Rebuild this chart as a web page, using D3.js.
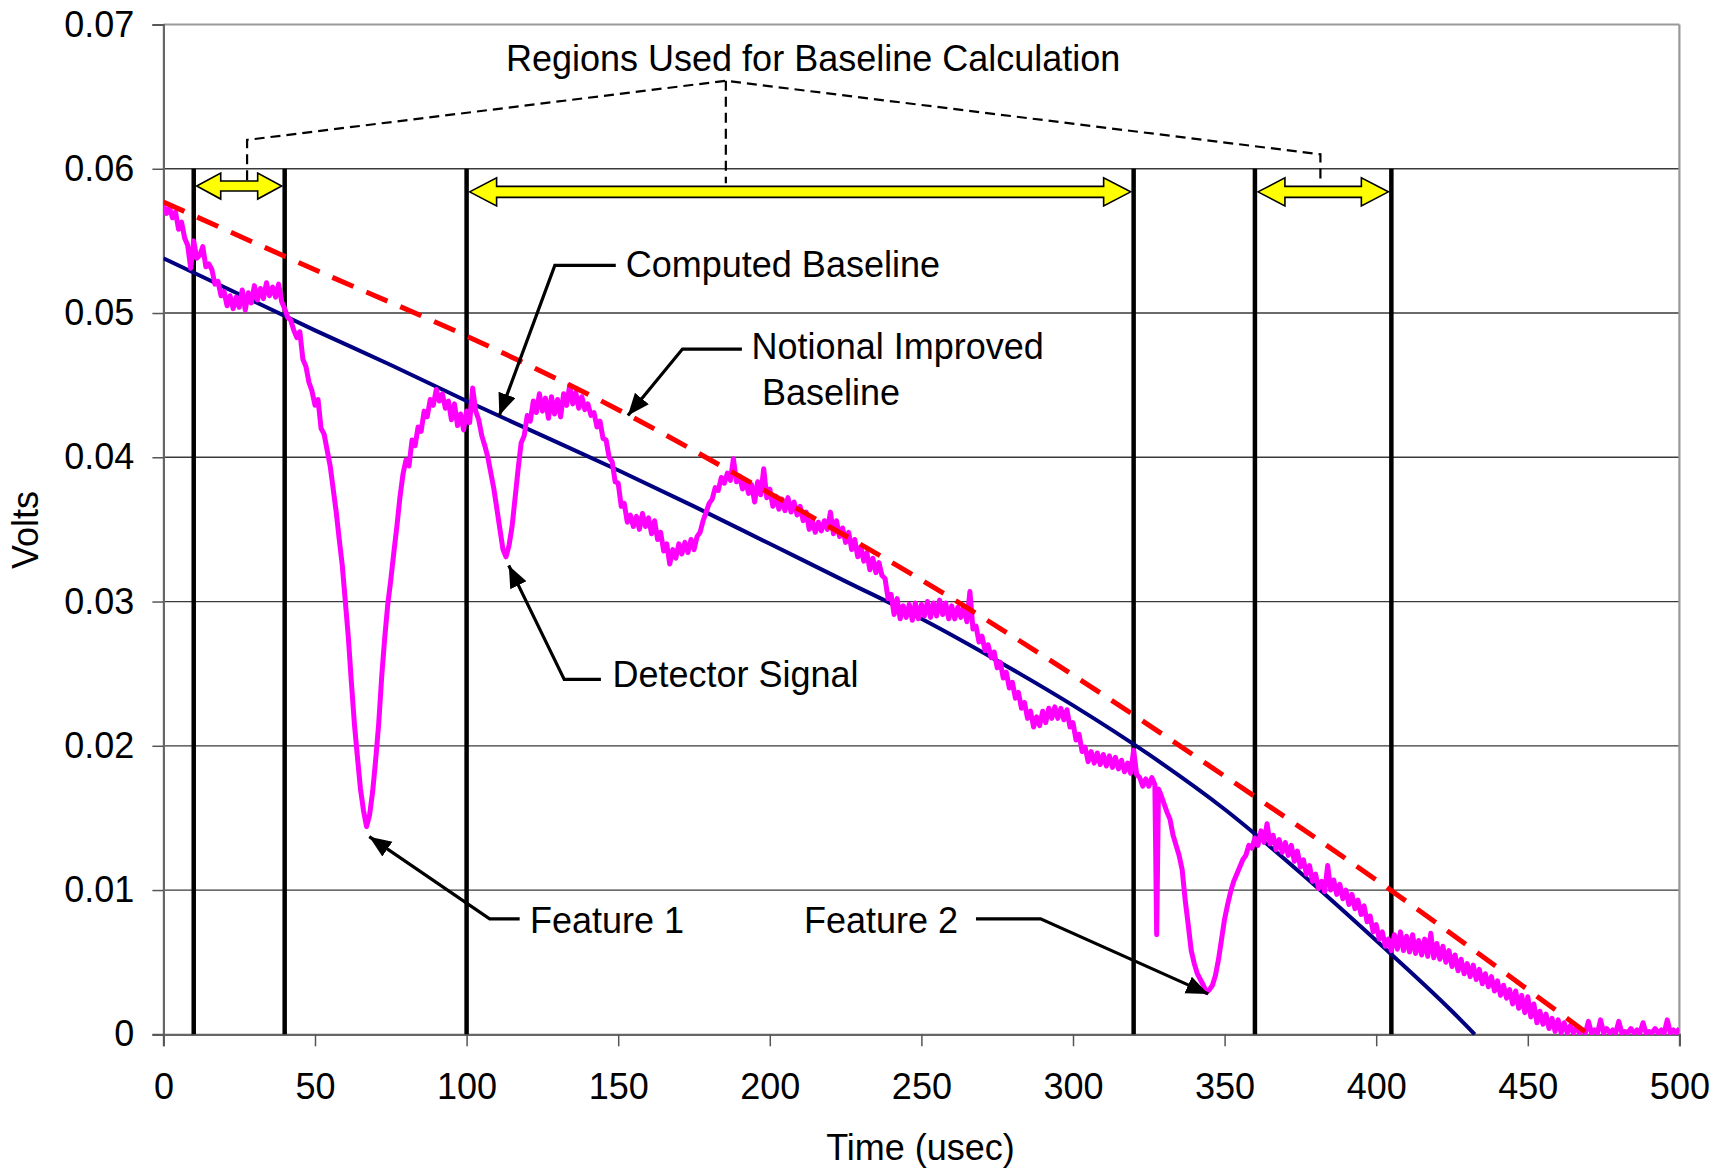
<!DOCTYPE html>
<html>
<head>
<meta charset="utf-8">
<script src="https://cdn.jsdelivr.net/npm/d3@7"></script>
<style>
  body { margin: 0; background: #fff; }
  svg { display: block; font-family: Arial, "Liberation Sans", sans-serif; }
</style>
</head>
<body>
<svg id="chart" width="1731" height="1168"></svg>
<script>
// ---- data ----
var xTicks = [0, 50, 100, 150, 200, 250, 300, 350, 400, 450, 500];
var yTicks = [0, 0.01, 0.02, 0.03, 0.04, 0.05, 0.06, 0.07];

// time (usec) of the black region markers
var regionLines = [10, 40, 100, 320, 360, 405];
var regionSpans = [[10, 40], [100, 320], [360, 405]];
var spanLevels = [0.0588, 0.0584, 0.0584];

// computed baseline (solid navy)
var computedBaseline = [[0, 0.0538], [25, 0.0513], [50, 0.0488], [75, 0.0464], [100, 0.0439],
  [125, 0.0415], [150, 0.0391], [175, 0.0366], [200, 0.0340], [225, 0.0314], [250, 0.0288],
  [275, 0.0259], [300, 0.0228], [325, 0.0194], [350, 0.0156], [375, 0.0112], [400, 0.0065],
  [425, 0.0016], [432.5, 0]];

// notional improved baseline (red dashed)
var improvedBaseline = [[0, 0.0577], [50, 0.0530], [100, 0.0484], [150, 0.0433], [200, 0.0375],
  [250, 0.0315], [300, 0.0249], [350, 0.0179], [400, 0.0107], [450, 0.0031], [470, 0]];

// detector signal (magenta)
var detectorSignal = [[0,0.0575],[1,0.0569],[2,0.0573],[3,0.0566],[4,0.0570],[5,0.0558],[6,0.0563],[7,0.0552],[8,0.0547],[9,0.0531],[10,0.0550],[11,0.0538],[12,0.0540],[13,0.0546],[14,0.0532],[15,0.0534],[16,0.0530],[17,0.0520],[18,0.0522],[19,0.0512],[20,0.0515],[21,0.0505],[22,0.0512],[23,0.0503],[24,0.0511],[25,0.0504],[26,0.0516],[27,0.0502],[28,0.0514],[29,0.0507],[30,0.0519],[31,0.0509],[32,0.0517],[33,0.0510],[34,0.0521],[35,0.0512],[36,0.0518],[37,0.0511],[38,0.0520],[39,0.0508],[40,0.0503],[41,0.0497],[42,0.0495],[43,0.0488],[44,0.0483],[45,0.0487],[46,0.0468],[47,0.0463],[48,0.0452],[49,0.0446],[50,0.0436],[51,0.0440],[52,0.0420],[53,0.0416],[54,0.0405],[55,0.0394],[56,0.0378],[57,0.0362],[58,0.0343],[59,0.0325],[60,0.0300],[61,0.0275],[62,0.0244],[63,0.0215],[64,0.0192],[65,0.0170],[66,0.0155],[67,0.0144],[68,0.0152],[69,0.0168],[70,0.0190],[71,0.0215],[72,0.0248],[73,0.0275],[74,0.0298],[75,0.0315],[76,0.0334],[77,0.0352],[78,0.0372],[79,0.0388],[80,0.0398],[81,0.0394],[82,0.0412],[83,0.0408],[84,0.0421],[85,0.0418],[86,0.0432],[87,0.0428],[88,0.0440],[89,0.0436],[90,0.0447],[91,0.0439],[92,0.0444],[93,0.0434],[94,0.0439],[95,0.0426],[96,0.0437],[97,0.0422],[98,0.0430],[99,0.0419],[100,0.0432],[101,0.0424],[102,0.0448],[103,0.0432],[104,0.0426],[105,0.0415],[106,0.0408],[107,0.0400],[108,0.0389],[109,0.0378],[110,0.0364],[111,0.0350],[112,0.0336],[113,0.0331],[114,0.0339],[115,0.0352],[116,0.0372],[117,0.0392],[118,0.0410],[119,0.0415],[120,0.0429],[121,0.0425],[122,0.0439],[123,0.0431],[124,0.0444],[125,0.0432],[126,0.0441],[127,0.0427],[128,0.0442],[129,0.0430],[130,0.0440],[131,0.0428],[132,0.0444],[133,0.0436],[134,0.0450],[135,0.0437],[136,0.0445],[137,0.0434],[138,0.0442],[139,0.0433],[140,0.0437],[141,0.0429],[142,0.0431],[143,0.0421],[144,0.0425],[145,0.0413],[146,0.0412],[147,0.0400],[148,0.0397],[149,0.0383],[150,0.0382],[151,0.0366],[152,0.0368],[153,0.0355],[154,0.0360],[155,0.0352],[156,0.0359],[157,0.0350],[158,0.0361],[159,0.0352],[160,0.0358],[161,0.0347],[162,0.0356],[163,0.0343],[164,0.0348],[165,0.0335],[166,0.0340],[167,0.0326],[168,0.0336],[169,0.0330],[170,0.0340],[171,0.0333],[172,0.0341],[173,0.0334],[174,0.0343],[175,0.0336],[176,0.0345],[177,0.0348],[178,0.0356],[179,0.0362],[180,0.0368],[181,0.0371],[182,0.0379],[183,0.0377],[184,0.0386],[185,0.0382],[186,0.0389],[187,0.0384],[188,0.0399],[189,0.0383],[190,0.0387],[191,0.0378],[192,0.0384],[193,0.0375],[194,0.0381],[195,0.0369],[196,0.0383],[197,0.0374],[198,0.0392],[199,0.0372],[200,0.0378],[201,0.0366],[202,0.0373],[203,0.0364],[204,0.0371],[205,0.0363],[206,0.0372],[207,0.0362],[208,0.0369],[209,0.0360],[210,0.0366],[211,0.0356],[212,0.0362],[213,0.0350],[214,0.0356],[215,0.0348],[216,0.0355],[217,0.0349],[218,0.0356],[219,0.0350],[220,0.0362],[221,0.0347],[222,0.0356],[223,0.0345],[224,0.0351],[225,0.0341],[226,0.0348],[227,0.0336],[228,0.0343],[229,0.0331],[230,0.0338],[231,0.0328],[232,0.0334],[233,0.0322],[234,0.0330],[235,0.0320],[236,0.0327],[237,0.0318],[238,0.0316],[239,0.0302],[240,0.0305],[241,0.0291],[242,0.0302],[243,0.0288],[244,0.0297],[245,0.0289],[246,0.0298],[247,0.0287],[248,0.0299],[249,0.0288],[250,0.0298],[251,0.0290],[252,0.0300],[253,0.0289],[254,0.0299],[255,0.0290],[256,0.0301],[257,0.0291],[258,0.0299],[259,0.0288],[260,0.0297],[261,0.0288],[262,0.0296],[263,0.0289],[264,0.0297],[265,0.0286],[266,0.0307],[267,0.0281],[268,0.0283],[269,0.0272],[270,0.0276],[271,0.0266],[272,0.0270],[273,0.0261],[274,0.0265],[275,0.0254],[276,0.0258],[277,0.0247],[278,0.0251],[279,0.0240],[280,0.0244],[281,0.0233],[282,0.0237],[283,0.0226],[284,0.0230],[285,0.0219],[286,0.0224],[287,0.0213],[288,0.0220],[289,0.0214],[290,0.0224],[291,0.0216],[292,0.0226],[293,0.0219],[294,0.0227],[295,0.0219],[296,0.0226],[297,0.0218],[298,0.0225],[299,0.0213],[300,0.0216],[301,0.0204],[302,0.0208],[303,0.0196],[304,0.0199],[305,0.0189],[306,0.0196],[307,0.0188],[308,0.0195],[309,0.0187],[310,0.0194],[311,0.0186],[312,0.0193],[313,0.0185],[314,0.0192],[315,0.0184],[316,0.0190],[317,0.0182],[318,0.0188],[319,0.0181],[320,0.0197],[321,0.0180],[322,0.0178],[323,0.0172],[324,0.0177],[325,0.0172],[326,0.0178],[327,0.0173],[327.6,0.0069],[328.2,0.0170],[329,0.0166],[330,0.0160],[331,0.0154],[332,0.0149],[333,0.0138],[334,0.0131],[335,0.0124],[336,0.0114],[337,0.0093],[338,0.0076],[339,0.0058],[340,0.0049],[341,0.0042],[342,0.0038],[343,0.0034],[344,0.0029],[345,0.0031],[346,0.0034],[347,0.0041],[348,0.0052],[349,0.0066],[350,0.0080],[351,0.0090],[352,0.0099],[353,0.0106],[354,0.0111],[355,0.0116],[356,0.0121],[357,0.0124],[358,0.0131],[359,0.0129],[360,0.0136],[361,0.0131],[362,0.0141],[363,0.0133],[364,0.0146],[365,0.0132],[366,0.0138],[367,0.0128],[368,0.0135],[369,0.0126],[370,0.0133],[371,0.0124],[372,0.0131],[373,0.0120],[374,0.0127],[375,0.0116],[376,0.0121],[377,0.0111],[378,0.0117],[379,0.0106],[380,0.0111],[381,0.0101],[382,0.0106],[383,0.0099],[384,0.0117],[385,0.0100],[386,0.0107],[387,0.0097],[388,0.0104],[389,0.0094],[390,0.0100],[391,0.0090],[392,0.0097],[393,0.0087],[394,0.0093],[395,0.0083],[396,0.0089],[397,0.0078],[398,0.0082],[399,0.0071],[400,0.0076],[401,0.0066],[402,0.0071],[403,0.0061],[404,0.0066],[405,0.0058],[406,0.0069],[407,0.0059],[408,0.0071],[409,0.0058],[410,0.0068],[411,0.0057],[412,0.0069],[413,0.0056],[414,0.0065],[415,0.0055],[416,0.0066],[417,0.0054],[418,0.0070],[419,0.0053],[420,0.0063],[421,0.0052],[422,0.0061],[423,0.0050],[424,0.0058],[425,0.0047],[426,0.0055],[427,0.0044],[428,0.0052],[429,0.0042],[430,0.0049],[431,0.0040],[432,0.0048],[433,0.0038],[434,0.0045],[435,0.0035],[436,0.0042],[437,0.0033],[438,0.0040],[439,0.0030],[440,0.0037],[441,0.0027],[442,0.0034],[443,0.0025],[444,0.0031],[445,0.0021],[446,0.0030],[447,0.0018],[448,0.0027],[449,0.0015],[450,0.0026],[451,0.0012],[452,0.0021],[453,0.0008],[454,0.0016],[455,0.0007],[456,0.0014],[457,0.0004],[458,0.0011],[459,0.0002],[460,0.0010],[461,0.0001],[462,0.0008],[463,0.0001],[464,0.0006],[465,0.0001],[466,0.0005],[467,0.0001],[468,0.0003],[469,0.0001],[470,0.0009],[471,0.0001],[472,0.0003],[473,0.0001],[474,0.0010],[475,0.0001],[476,0.0004],[477,0.0001],[478,0.0003],[479,0.0001],[480,0.0009],[481,0.0001],[482,0.0002],[483,0.0001],[484,0.0004],[485,0.0001],[486,0.0003],[487,0.0001],[488,0.0008],[489,0.0001],[490,0.0002],[491,0.0001],[492,0.0004],[493,0.0001],[494,0.0003],[495,0.0001],[496,0.0010],[497,0.0001],[498,0.0003],[499,0.0001],[500,0.0004]];

// dashed bracket joining the three regions (time, volts)
var bracketLine = [[27.6, 0.0592], [27.6, 0.0620], [185.5, 0.0661], [381.6, 0.0610], [381.6, 0.0590]];
var bracketStem = [[185.5, 0.0661], [185.5, 0.0590]];

// callout leaders: text end -> elbow -> arrow tip
var leaders = {
  computed: [[149.2, 0.0533], [129.1, 0.0533], [110.8, 0.0429]],
  improved: [[190.8, 0.0475], [171.2, 0.0475], [153.2, 0.0429]],
  detector: [[144.3, 0.0246], [132.2, 0.0246], [113.9, 0.0325]],
  feature1: [[117.5, 0.0080], [107.6, 0.0080], [67.9, 0.0137]],
  feature2: [[268.0, 0.0080], [289.3, 0.0080], [344.6, 0.0028]]
};
var labels = [
  {text: "Regions Used for Baseline Calculation", t: 214.3, v: 0.0668, anchor: "middle"},
  {text: "Computed Baseline", t: 152.5, v: 0.0525, anchor: "start"},
  {text: "Notional Improved", t: 194.0, v: 0.0468, anchor: "start"},
  {text: "Baseline", t: 197.4, v: 0.0436, anchor: "start"},
  {text: "Detector Signal", t: 148.1, v: 0.0241, anchor: "start"},
  {text: "Feature 1", t: 120.9, v: 0.0070, anchor: "start"},
  {text: "Feature 2", t: 262.1, v: 0.0070, anchor: "end"}
];

var drawChart = function () {
  var svg = d3.select('#chart');
  var left = 163.4, right = 1679.4, top = 24.5, bottom = 1034.3;
  var FONT = 36;

  var xScale = d3.scaleLinear().domain([0, 500]).range([left, right]);
  var yScale = d3.scaleLinear().domain([0, 0.07]).range([bottom, top]);

  // gridlines
  svg.append('g')
    .selectAll('line')
    .data(yTicks.filter(function (d) { return d > 0 && d < 0.07; }))
    .enter().append('line')
    .attr('x1', left).attr('x2', right)
    .attr('y1', function (d) { return yScale(d); })
    .attr('y2', function (d) { return yScale(d); })
    .attr('stroke', '#3a3a3a').attr('stroke-width', 1.3);

  // frame top / right
  svg.append('line').attr('x1', left).attr('x2', right).attr('y1', top).attr('y2', top)
    .attr('stroke', '#999').attr('stroke-width', 2.2);
  svg.append('line').attr('x1', right).attr('x2', right).attr('y1', top).attr('y2', bottom)
    .attr('stroke', '#999').attr('stroke-width', 2.2);

  // axes
  var yAxis = d3.axisLeft(yScale).tickValues(yTicks).tickSize(11).tickPadding(18)
    .tickFormat(function (d) { return d === 0 ? '0' : d3.format('.2f')(d); });
  var gy = svg.append('g').attr('transform', 'translate(' + left + ',0)').call(yAxis);
  var xAxis = d3.axisBottom(xScale).tickValues(xTicks).tickSize(12).tickPadding(27)
    .tickFormat(d3.format('d'));
  var gx = svg.append('g').attr('transform', 'translate(0,' + bottom + ')').call(xAxis);
  [gx, gy].forEach(function (g) {
    g.attr('font-size', FONT).attr('font-family', 'Arial, "Liberation Sans", sans-serif');
    g.selectAll('text').attr('fill', '#000');
    g.selectAll('.tick line').attr('stroke', '#555').attr('stroke-width', 1.5);
    g.select('.domain').attr('stroke', '#666').attr('stroke-width', 2.2);
  });

  // axis titles
  svg.append('text').attr('transform', 'translate(38,530) rotate(-90)')
    .attr('text-anchor', 'middle').attr('font-size', FONT).text('Volts');
  svg.append('text').attr('x', 920.5).attr('y', 1160)
    .attr('text-anchor', 'middle').attr('font-size', FONT).text('Time (usec)');

  // region marker lines
  svg.append('g').selectAll('line').data(regionLines).enter().append('line')
    .attr('x1', function (d) { return xScale(d); })
    .attr('x2', function (d) { return xScale(d); })
    .attr('y1', yScale(0.06)).attr('y2', bottom)
    .attr('stroke', '#000').attr('stroke-width', 4.5);

  svg.append('clipPath').attr('id', 'plotClip').append('rect')
    .attr('x', left).attr('y', top).attr('width', right - left).attr('height', bottom - top + 1);

  var line = d3.line()
    .x(function (d) { return xScale(d[0]); })
    .y(function (d) { return yScale(d[1]); });
  var smooth = d3.line()
    .curve(d3.curveMonotoneX)
    .x(function (d) { return xScale(d[0]); })
    .y(function (d) { return yScale(d[1]); });

  var series = svg.append('g').attr('clip-path', 'url(#plotClip)');
  series.append('path').datum(computedBaseline).attr('d', smooth)
    .attr('fill', 'none').attr('stroke', '#000080').attr('stroke-width', 4);
  series.append('path').datum(detectorSignal).attr('d', line)
    .attr('fill', 'none').attr('stroke', '#ff00ff').attr('stroke-width', 5)
    .attr('stroke-linejoin', 'round');
  series.append('path').datum(improvedBaseline).attr('d', smooth)
    .attr('fill', 'none').attr('stroke', '#ff0000').attr('stroke-width', 5)
    .attr('stroke-dasharray', '23,14');

  // dashed bracket
  [bracketLine, bracketStem].forEach(function (pts) {
    svg.append('path').datum(pts).attr('d', line)
      .attr('fill', 'none').attr('stroke', '#000').attr('stroke-width', 2.2)
      .attr('stroke-dasharray', '10,6');
  });

  // yellow double-headed arrows
  var doubleArrow = function (x1, x2, yc, shaft, headH, headL) {
    var s = shaft / 2, h = headH / 2;
    return 'M' + x1 + ',' + yc +
      'L' + (x1 + headL) + ',' + (yc - h) +
      'L' + (x1 + headL) + ',' + (yc - s) +
      'L' + (x2 - headL) + ',' + (yc - s) +
      'L' + (x2 - headL) + ',' + (yc - h) +
      'L' + x2 + ',' + yc +
      'L' + (x2 - headL) + ',' + (yc + h) +
      'L' + (x2 - headL) + ',' + (yc + s) +
      'L' + (x1 + headL) + ',' + (yc + s) +
      'L' + (x1 + headL) + ',' + (yc + h) + 'Z';
  };
  svg.append('g').selectAll('path').data(regionSpans).enter().append('path')
    .attr('d', function (d, i) {
      var small = i === 0;
      return doubleArrow(xScale(d[0]) + 3, xScale(d[1]) - 3, yScale(spanLevels[i]),
        small ? 10 : 11, small ? 26 : 28, small ? 24 : 27);
    })
    .attr('fill', '#ffff00').attr('stroke', '#000').attr('stroke-width', 1.6);

  // callout arrows
  svg.append('defs').append('marker')
    .attr('id', 'tip').attr('markerUnits', 'userSpaceOnUse')
    .attr('markerWidth', 24).attr('markerHeight', 20)
    .attr('refX', 22).attr('refY', 9).attr('orient', 'auto')
    .append('path').attr('d', 'M0,0L22,9L0,18Z').attr('fill', '#000');
  Object.keys(leaders).forEach(function (k) {
    svg.append('path').datum(leaders[k]).attr('d', line)
      .attr('fill', 'none').attr('stroke', '#000').attr('stroke-width', 3.2)
      .attr('marker-end', 'url(#tip)');
  });

  svg.append('g').selectAll('text').data(labels).enter().append('text')
    .attr('x', function (d) { return xScale(d.t); })
    .attr('y', function (d) { return yScale(d.v); })
    .attr('text-anchor', function (d) { return d.anchor; })
    .attr('font-size', FONT)
    .text(function (d) { return d.text; });
};

window.onload = drawChart;
</script>
</body>
</html>
